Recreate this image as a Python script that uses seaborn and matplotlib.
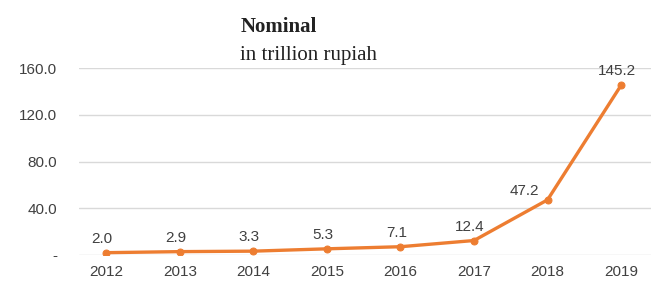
import pandas as pd
import numpy as np
import seaborn as sns
import matplotlib.pyplot as plt

years = ["2012", "2013", "2014", "2015", "2016", "2017", "2018", "2019"]
nominal = [2.0, 2.9, 3.3, 5.3, 7.1, 12.4, 47.2, 145.2]
yticks = [0, 40, 80, 120, 160]
ytick_labels = ["-", "40.0", "80.0", "120.0", "160.0"]

df = pd.DataFrame({"year": years, "value": nominal})
df["pos"] = np.arange(len(years))

sns.set_style("white")
plt.rcParams["font.family"] = ["Liberation Sans", "DejaVu Sans"]

fig = plt.figure(figsize=(6.51, 2.89), dpi=100)
ax = fig.add_axes([0.122, 0.1176, 0.878, 0.6471])

orange = "#ED7D31"
sns.lineplot(data=df, x="pos", y="value", color=orange, linewidth=2.4,
             marker="o", markersize=5, markeredgecolor=orange, ax=ax)

ax.set_xlim(-0.366, 7.407)
ax.set_ylim(0, 160)
ax.set_xticks(df["pos"])
ax.set_xticklabels(years)
ax.set_yticks(yticks)
ax.set_yticklabels(ytick_labels)
ax.set_xlabel("")
ax.set_ylabel("")
ax.tick_params(axis="both", length=0, labelsize=11, labelcolor="#404040")
ax.tick_params(axis="x", pad=7)
ax.tick_params(axis="y", pad=16)
for s in ax.spines.values():
    s.set_visible(False)
ax.grid(axis="y", color="#d9d9d9", linewidth=1)
ax.set_axisbelow(True)

# data labels
offsets = {6: (-17, 1)}
for i, v in enumerate(nominal):
    dx, dy = offsets.get(i, (-3, 5))
    ax.annotate(f"{v:.1f}", (i, v), xytext=(dx, dy), textcoords="offset points",
                ha="center", va="bottom", fontsize=11, color="#404040",
                annotation_clip=False)

fig.text(0.369, 0.889, "Nominal", family="Liberation Serif", fontweight="bold",
         fontsize=15, color="#222222", ha="left", va="baseline")
fig.text(0.369, 0.792, "in trillion rupiah", family="Liberation Serif",
         fontsize=15, color="#222222", ha="left", va="baseline")

fig.savefig("out.png", dpi=100)
